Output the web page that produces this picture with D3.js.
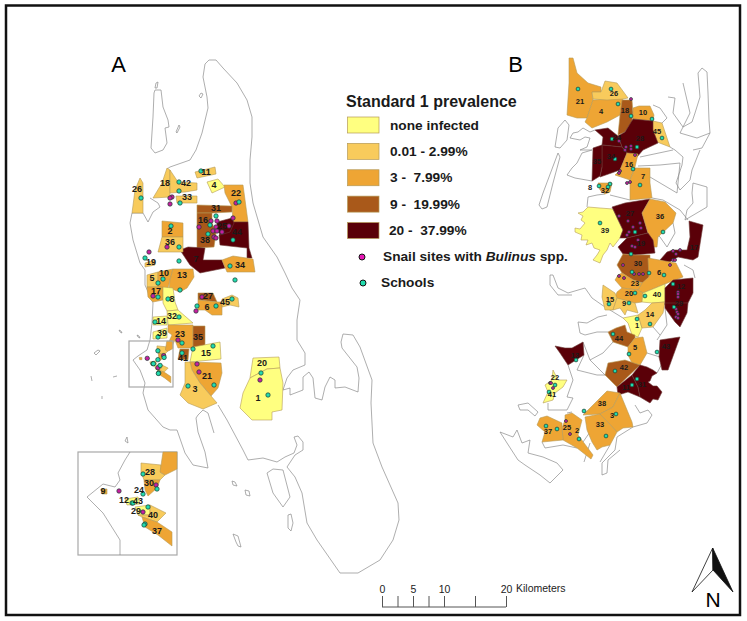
<!DOCTYPE html>
<html>
<head>
<meta charset="utf-8">
<script src="https://cdn.jsdelivr.net/npm/d3@7"></script>
<style>
  html, body { margin: 0; padding: 0; background: #fff; }
  svg { display: block; }
  text { font-family: "Liberation Sans", Arial, sans-serif; }
</style>
</head>
<body>
<svg id="map" width="747" height="621"></svg>
<script>
// prevalence classes
const classLabels = ["none infected", "0.01 - 2.99%", "3 -  7.99%", "9 -  19.99%", "20 -  37.99%"];
const classColors = ["#ffff80", "#f8cb5c", "#eea534", "#a9591a", "#5a0008"];

const coastA = [
  [[205,64],[209,60],[216,60],[223,68],[237,83],[247,100],[252,117],[252,137],[250,160],[250,183],[253,203],[263,237],[277,257],[285,273],[292,288],[300,300],[297,320],[297,340],[305,353],[305,365],[293,370],[287,378],[283,390],[290,388],[290,395],[303,390],[303,377],[309,372],[313,378],[315,398],[322,400],[325,387],[330,377],[335,380],[335,388],[345,387],[358,392],[359,378],[357,367],[342,348],[341,342],[343,334],[353,335],[360,347],[372,380],[371,403],[373,443],[382,467],[398,503],[399,520],[393,540],[380,560],[358,573],[340,573],[317,540],[307,523],[302,493],[295,477],[287,467],[295,455],[303,450],[303,442],[298,436],[294,437],[297,445],[294,453],[285,457],[277,462],[263,458],[248,460],[243,450],[227,420],[218,405]],
  [[205,64],[203,77],[207,97],[208,108],[202,133],[196,150],[190,160],[170,167],[167,169]],
  [[150,198],[158,203],[160,207],[153,212],[148,222],[143,213],[132,213],[130,223],[133,240],[140,263],[145,270],[145,285],[153,303],[152,323],[150,340],[147,350],[138,356],[133,360],[140,370],[145,383],[143,393],[148,410],[163,427],[170,430],[177,430],[185,453],[193,465],[208,468],[205,452],[198,432],[196,418],[198,415],[203,410],[208,413],[214,433]],
  [[155,90],[161,90],[163,107],[168,120],[169,127],[165,128],[167,143],[163,150],[155,153],[151,148],[153,117],[154,93],[155,90]],
  [[156,83],[158,82],[157,88],[155,88],[156,83]],
  [[176,132],[179,125],[180,127],[177,133],[176,132]],
  [[199,96],[201,93],[203,94],[201,98],[199,96]],
  [[94,353],[98,350],[100,351],[96,355],[94,353]],
  [[119,330],[121,331],[122,333],[120,332],[119,330]],
  [[137,335],[139,336],[140,338],[138,337],[137,335]],
  [[91,376],[92,381]],
  [[113,377],[117,376]],
  [[102,396],[102,399]],
  [[127,437],[125,441],[128,443],[127,437]],
  [[232,481],[235,482],[237,486],[233,485],[232,481]],
  [[245,490],[249,491],[250,496],[246,495],[245,490]],
  [[233,534],[238,536],[241,547],[238,546],[236,542],[233,534]],
  [[267,473],[273,469],[283,470],[290,497],[283,507],[273,493],[267,473]],
  [[288,515],[291,514],[293,523],[291,531],[288,528],[288,515]]
];
const insetCoast = [
  [[130,452],[125,460],[118,473],[120,480],[115,487],[103,484],[87,497],[103,513],[120,540],[120,555]]
];
const coastB = [
  [[558,153],[543,193],[539,205],[542,209],[547,207],[553,183],[560,157],[558,153]],
  [[565,120],[558,128],[555,147],[560,148],[567,140],[569,125],[565,120]],
  [[702,68],[707,72],[708,93],[709,120],[710,133],[702,148],[693,150]],
  [[702,68],[698,73],[700,97],[695,113],[692,122],[683,127],[680,133],[697,138],[710,133]],
  [[670,147],[675,150],[683,157],[682,165],[676,183],[680,190],[690,180],[692,170],[700,150]],
  [[640,157],[673,150]],
  [[638,166],[660,165],[680,163]],
  [[650,177],[677,193],[680,163]],
  [[668,97],[675,98],[673,113],[683,127],[690,113],[683,83]],
  [[653,105],[660,108],[667,118],[662,123]],
  [[595,130],[590,132],[583,128],[578,132],[573,133],[570,138],[580,140],[585,137],[590,138],[587,147],[580,150],[592,150],[582,153],[577,163],[572,168],[567,175],[575,178],[592,181]],
  [[605,194],[597,195],[588,197],[587,207]],
  [[610,195],[630,200]],
  [[673,223],[675,233],[667,247],[660,237],[658,235]],
  [[693,183],[707,187],[707,207],[685,220],[687,210],[693,203],[692,193],[693,183]],
  [[652,198],[663,200],[680,210],[688,220]],
  [[550,275],[553,275],[558,288],[568,293],[585,288],[592,298],[602,305],[610,310],[623,318]],
  [[550,275],[550,285],[558,295],[572,295]],
  [[578,322],[580,333],[585,335],[597,332],[608,332]],
  [[607,315],[598,317],[587,323],[578,322]],
  [[583,342],[590,360],[605,375]],
  [[590,360],[603,353],[613,342]],
  [[584,355],[577,370],[597,375],[607,375]],
  [[568,365],[573,380],[567,397],[573,398],[567,410],[548,410],[548,403]],
  [[665,308],[667,325],[657,340]],
  [[647,353],[660,357]],
  [[653,327],[660,335]],
  [[684,265],[693,270],[695,278]],
  [[500,432],[513,437],[517,430],[522,443],[530,440],[528,453],[543,457],[557,463],[563,470],[550,483],[540,475],[525,465],[518,460],[507,443],[500,432]],
  [[518,405],[528,403],[538,412],[535,416],[528,410],[520,410],[518,405]],
  [[635,405],[640,413],[648,410],[652,415],[647,423],[633,427],[617,437],[615,450],[602,463],[602,475],[607,473],[608,460],[620,450]],
  [[567,413],[572,412]],
  [[542,442],[545,448],[563,445],[577,448]],
  [[583,442],[590,432]],
  [[584,462],[590,443]],
  [[600,462],[610,445]],
  [[657,373],[664,360],[668,370]]
];

// [id, class, outline]
const districtsA = [
  [26,1,[[140,178],[143,183],[143,213],[132,213],[135,190]]],
  [18,1,[[167,168],[170,170],[170,197],[153,198],[162,183]]],
  [42,1,[[170,170],[178,182],[197,183],[197,190],[185,192],[170,193]]],
  [33,1,[[176,196],[197,196],[197,203],[177,203]]],
  [11,1,[[195,172],[215,167],[216,174],[197,178]]],
  [4,0,[[207,182],[218,179],[225,187],[212,193]]],
  [22,2,[[224,185],[243,185],[248,222],[233,222],[232,207],[225,193]]],
  [31,3,[[197,205],[232,206],[232,212],[212,213],[197,213]]],
  [16,3,[[197,213],[212,213],[212,223],[216,233],[214,247],[197,248]]],
  [44,4,[[232,222],[248,222],[249,248],[252,258],[247,258],[247,248],[220,245],[219,235],[233,223]]],
  [25,4,[[217,222],[232,218],[234,223],[230,232],[220,235],[217,228]]],
  [7,4,[[180,250],[188,247],[205,248],[203,260],[222,260],[225,268],[200,273],[190,265]]],
  [34,2,[[222,260],[233,256],[253,259],[255,272],[227,272]]],
  [2,2,[[162,221],[183,223],[183,237],[162,237]]],
  [36,1,[[162,237],[183,237],[183,252],[158,252]]],
  [19,1,[[145,263],[155,260],[155,265],[145,267]]],
  [5,1,[[147,275],[158,272],[158,287],[147,287]]],
  [10,2,[[158,272],[173,269],[170,280],[168,288],[158,287]]],
  [13,2,[[173,269],[193,269],[194,277],[187,288],[180,292],[169,288],[170,280]]],
  [17,2,[[147,287],[163,287],[163,300],[153,302],[148,297]]],
  [8,0,[[163,287],[173,288],[175,302],[178,310],[167,311],[163,303]]],
  [32,0,[[167,311],[178,310],[193,323],[168,325]]],
  [14,0,[[153,317],[167,316],[167,325],[153,325]]],
  [39,0,[[153,332],[167,328],[167,338],[153,339]]],
  [23,2,[[168,325],[193,325],[193,348],[178,348],[175,340],[170,350],[165,350],[172,335],[168,332]]],
  [35,3,[[193,326],[205,326],[205,347],[193,348]]],
  [41,3,[[180,349],[189,349],[188,360],[178,359]]],
  [15,0,[[193,347],[220,342],[221,359],[190,362]]],
  [21,2,[[190,362],[221,363],[222,373],[218,388],[211,396],[200,383],[192,370]]],
  [3,1,[[185,362],[190,362],[192,370],[200,383],[211,396],[217,403],[203,409],[188,403],[180,395],[185,383]]],
  [27,3,[[198,293],[213,293],[217,302],[198,300]]],
  [6,2,[[198,300],[217,302],[222,302],[222,315],[212,315],[205,310],[198,310]]],
  [45,1,[[222,299],[232,295],[238,298],[239,307],[230,305],[222,307]]],
  [20,0,[[253,358],[279,357],[280,368],[267,369],[250,378]]],
  [1,0,[[250,378],[267,369],[280,368],[283,383],[282,410],[272,412],[272,420],[252,420],[240,408],[243,393]]]
];
const districtsInset = [
  [28,1,[[141,463],[161,465],[161,473],[165,475],[160,480],[144,480],[141,472]]],
  [23,2,[[163,452],[177,452],[177,469],[165,475],[160,472]]],
  [30,2,[[144,480],[160,480],[157,488],[148,496],[145,490]]],
  [9,2,[[101,489],[107,489],[107,494],[102,494]]],
  [43,0,[[125,499],[138,497],[140,504],[127,505]]],
  [29,0,[[135,507],[150,505],[150,515],[138,515]]],
  [40,1,[[150,505],[166,513],[157,522],[142,517],[138,515],[150,515]]],
  [37,2,[[142,517],[157,522],[172,532],[172,546],[158,535],[145,527]]]
];
const districtsB = [
  [21,2,[[569,58],[573,58],[577,73],[588,83],[601,87],[601,92],[592,92],[593,100],[587,118],[577,118],[567,115],[569,83]]],
  [4,2,[[593,100],[623,98],[620,115],[607,122],[592,128],[585,122],[587,118]]],
  [26,1,[[601,92],[605,81],[617,83],[628,98],[623,99],[607,100],[593,99],[592,92]]],
  [18,3,[[622,100],[632,100],[633,113],[632,122],[625,132],[618,135],[620,115]]],
  [10,2,[[639,106],[650,106],[654,115],[653,121],[633,119],[633,108]]],
  [45,1,[[653,121],[662,123],[670,147],[657,142],[652,133],[652,122]]],
  [28,4,[[618,136],[625,132],[633,119],[653,121],[653,130],[658,143],[643,150],[637,157],[627,153],[622,147]]],
  [24,4,[[595,130],[608,128],[618,136],[622,147],[602,145],[603,137]]],
  [34,4,[[602,145],[622,147],[627,153],[620,170],[600,177],[602,167]]],
  [35,4,[[593,148],[602,145],[602,167],[600,176],[592,181]]],
  [16,2,[[627,153],[638,154],[635,167],[630,180],[615,175],[620,170]]],
  [7,2,[[635,168],[650,168],[650,183],[652,198],[630,200],[630,180]]],
  [32,2,[[598,183],[612,183],[610,192],[605,194],[600,190]]],
  [39,0,[[588,207],[600,208],[613,209],[618,220],[623,230],[620,238],[613,247],[610,243],[607,250],[603,255],[600,263],[593,260],[597,255],[600,250],[594,248],[592,243],[586,245],[588,240],[581,240],[582,235],[575,232],[575,228],[580,229],[585,223],[581,220],[583,216],[578,213],[583,212]]],
  [27,4,[[612,207],[625,203],[650,199],[642,213],[648,233],[627,238],[620,238],[623,230],[613,209]]],
  [36,2,[[650,199],[665,202],[676,213],[673,223],[658,237],[657,247],[653,247],[648,233],[642,213]]],
  [19,4,[[627,238],[648,233],[653,240],[655,253],[635,255],[623,254],[618,247]]],
  [17,4,[[689,221],[703,225],[698,257],[693,260],[678,257],[668,263],[660,260],[667,252],[673,250],[687,250],[690,237]]],
  [30,3,[[623,254],[635,255],[650,255],[650,263],[649,277],[643,283],[633,280],[622,273],[617,265]]],
  [6,2,[[648,258],[676,263],[683,277],[665,284],[643,293],[638,290],[642,283],[649,277]]],
  [23,2,[[618,275],[622,273],[633,280],[642,283],[638,290],[622,288],[615,280]]],
  [20,2,[[617,292],[622,288],[638,290],[643,293],[642,302],[635,303],[615,298]]],
  [40,0,[[643,293],[665,284],[665,302],[652,303],[642,302]]],
  [15,1,[[603,285],[615,293],[617,298],[613,310],[605,310],[602,297]]],
  [9,1,[[617,298],[635,303],[638,313],[627,310],[625,315],[620,308],[613,310]]],
  [1,0,[[623,318],[638,315],[642,328],[638,337],[632,335],[628,323]]],
  [14,1,[[652,303],[665,302],[663,313],[653,327],[642,328],[638,315],[645,310]]],
  [12,4,[[665,288],[673,280],[693,278],[693,293],[688,303],[665,305]]],
  [29,4,[[665,303],[688,303],[687,313],[680,327],[675,322],[665,308]]],
  [44,3,[[608,332],[616,328],[625,325],[627,332],[635,335],[635,338],[628,347],[613,342]]],
  [5,2,[[635,338],[643,337],[647,353],[640,365],[632,363],[628,355],[628,347]]],
  [43,4,[[660,340],[680,337],[668,370],[662,370],[659,357]]],
  [13,4,[[555,346],[565,348],[572,348],[583,342],[584,355],[568,365],[560,353]]],
  [42,3,[[608,363],[625,360],[640,365],[617,387],[605,375]]],
  [11,4,[[617,387],[632,375],[638,387],[640,397],[628,392],[618,395]]],
  [31,4,[[632,375],[640,365],[647,367],[653,370],[657,373],[652,376],[650,381],[648,382],[653,386],[657,386],[662,392],[660,396],[658,400],[653,399],[650,403],[645,400],[640,397],[638,387]]],
  [38,2,[[583,415],[607,391],[620,393],[613,407],[600,414]]],
  [3,2,[[620,393],[632,422],[633,427],[623,428],[617,432],[600,414],[613,407]]],
  [33,2,[[585,417],[600,414],[617,432],[610,445],[602,447],[597,450],[592,442],[587,430]]],
  [25,2,[[565,415],[572,413],[582,420],[578,435],[593,455],[591,459],[577,448],[563,440],[562,428],[565,420]]],
  [37,2,[[540,418],[547,416],[562,423],[562,428],[563,440],[542,442],[545,432],[537,425]]],
  [22,0,[[553,370],[558,380],[567,380],[563,387],[555,393],[553,400],[543,403],[548,392],[545,385],[552,380]]]
];

// [id, x, y]
const labelsA = [[26,137,189],[18,165,183],[42,186,183],[33,187,197],[11,206,172],[4,214,185],[22,236,193],[31,216,208],[16,203,220],[38,205,240],[25,222,226],[44,237,232],[2,170,231],[36,170,242],[19,151,262],[7,196,259],[34,240,265],[5,152,278],[10,164,273],[13,182,275],[17,156,291],[8,172,299],[32,172,316],[14,161,321],[39,162,333],[23,180,334],[35,198,337],[41,183,358],[15,206,353],[21,207,376],[3,195,389],[27,208,296],[6,207,307],[45,225,302],[20,262,363],[1,258,398]];
const labelsInset = [[28,150,472],[30,149,483],[24,139,490],[12,124,500],[43,138,501],[29,136,511],[40,153,515],[37,157,531],[9,103,491]];
const labelsB = [[21,580,101],[26,614,93],[4,601,111],[18,625,110],[10,643,112],[45,657,131],[24,617,137],[28,640,138],[34,611,156],[35,597,161],[16,629,164],[7,643,176],[8,590,187],[32,605,190],[27,630,213],[36,660,216],[39,605,230],[19,641,243],[17,694,247],[30,638,263],[6,659,272],[23,635,283],[20,629,293],[40,657,294],[12,681,286],[15,610,299],[9,624,303],[29,679,303],[14,650,314],[1,637,325],[44,619,338],[5,635,347],[43,666,346],[13,575,355],[42,624,367],[22,555,377],[11,626,387],[31,642,384],[41,552,394],[38,602,403],[3,612,415],[33,600,424],[25,567,427],[2,577,430],[37,548,431]];

const schoolsA = [[201,171],[179,182],[179,191],[180,203],[141,198],[239,202],[216,216],[210,225],[208,234],[233,240],[171,226],[179,247],[145,258],[179,261],[230,266],[235,280],[158,283],[163,279],[158,297],[168,299],[180,290],[179,317],[155,322],[158,337],[182,343],[193,349],[182,353],[213,346],[197,306],[216,306],[232,299],[188,386],[214,385],[261,373],[268,395]];
const snailsA = [[172,197],[170,198],[170,204],[149,252],[167,247],[236,203],[233,218],[199,227],[211,221],[217,221],[216,227],[213,231],[217,231],[222,232],[229,226],[214,237],[216,238],[153,296],[202,297],[196,311],[178,340],[197,364],[199,372],[260,380]];
const schoolsInset = [[143,474],[157,489],[143,494],[132,503],[133,503],[148,507],[145,524],[144,525]];
const snailsInset = [[119,491],[156,485],[143,512]];
const schoolsB = [[578,89],[611,89],[618,104],[631,116],[652,119],[662,138],[612,139],[637,147],[615,159],[633,169],[640,185],[599,186],[610,184],[608,187],[600,223],[635,232],[663,232],[631,254],[632,272],[649,273],[664,275],[673,284],[635,293],[645,296],[674,307],[609,304],[629,303],[637,319],[650,324],[613,334],[629,354],[657,352],[576,360],[615,371],[637,379],[632,385],[555,385],[549,392],[584,411],[616,414],[606,436],[546,426],[557,429],[579,439]];
const snailsB = [[631,99],[619,141],[626,147],[631,146],[625,150],[631,149],[635,155],[620,171],[619,173],[630,182],[627,183],[619,216],[628,221],[640,223],[633,227],[641,228],[629,232],[627,235],[638,240],[632,246],[635,247],[623,265],[673,251],[680,250],[676,254],[673,260],[675,260],[670,265],[634,274],[639,274],[643,274],[619,276],[624,278],[678,292],[678,294],[678,297],[676,309],[677,312],[678,314],[676,317],[678,318],[550,383],[551,383],[553,388],[566,421],[570,434]];

const scaleTicks = [0, 2.5, 5, 7.5, 10, 15, 20];
const scaleLabelled = [0, 5, 10, 20];

const svg = d3.select("#map");

// outer frame
svg.append("rect")
  .attr("x", 6).attr("y", 5.5)
  .attr("width", 734).attr("height", 609.5)
  .attr("fill", "#fff").attr("stroke", "#111").attr("stroke-width", 2.5);

// projections: main map, inset panel, and inset data shrunk to the small box
const inset = { x0: 78, y0: 452, x1: 177, y1: 555, k: 2.25 };
const mainProj = d3.geoIdentity();
const insetProj = d3.geoIdentity().clipExtent([[inset.x0, inset.y0], [inset.x1, inset.y1]]);
const miniProj = d3.geoIdentity()
  .scale(1 / inset.k)
  .translate([129 - inset.x0 / inset.k, 341 - inset.y0 / inset.k]);

const drawCoast = (lines, proj) => {
  svg.append("path")
    .datum({ type: "MultiLineString", coordinates: lines })
    .attr("d", d3.geoPath(proj))
    .attr("fill", "none")
    .attr("stroke", "#8b8b8b")
    .attr("stroke-width", 0.7);
};

const drawDistricts = (rows, proj) => {
  const path = d3.geoPath(proj);
  svg.append("g")
    .selectAll("path")
    .data(rows)
    .join("path")
    .attr("d", d => path({ type: "Polygon", coordinates: [[...d[2], d[2][0]]] }))
    .attr("fill", d => classColors[d[1]])
    .attr("stroke", d => (d[1] === 4 ? "#6d3a38" : "#b59a58"))
    .attr("stroke-width", 0.6)
    .attr("stroke-linejoin", "round");
};

const drawPoints = (rows, proj, r, fill) => {
  svg.append("g")
    .selectAll("circle")
    .data(rows)
    .join("circle")
    .attr("cx", d => proj(d)[0])
    .attr("cy", d => proj(d)[1])
    .attr("r", r)
    .attr("fill", fill)
    .attr("stroke", "#1b3a30")
    .attr("stroke-width", 0.7);
};

const drawLabels = (rows, proj, size) => {
  svg.append("g")
    .selectAll("text")
    .data(rows)
    .join("text")
    .attr("x", d => proj([d[1], d[2]])[0])
    .attr("y", d => proj([d[1], d[2]])[1])
    .attr("dy", "0.36em")
    .attr("text-anchor", "middle")
    .attr("font-size", size)
    .attr("font-weight", "bold")
    .attr("fill", "#1a1a1a")
    .text(d => d[0]);
};

const SNAIL = "#c81fa0";
const SCHOOL = "#22dcae";

// panel A
drawCoast(coastA, mainProj);
drawDistricts(districtsA, mainProj);
drawDistricts(districtsInset, miniProj);
drawPoints(snailsA, mainProj, 2.2, SNAIL);
drawPoints(schoolsA, mainProj, 2.2, SCHOOL);
drawPoints(snailsInset, miniProj, 2.2, SNAIL);
drawPoints(schoolsInset, miniProj, 2.2, SCHOOL);
drawLabels(labelsA, mainProj, 9);

svg.append("rect")
  .attr("x", 129).attr("y", 341).attr("width", 44).attr("height", 46)
  .attr("fill", "none").attr("stroke", "#a8a8a8").attr("stroke-width", 1.2);

// inset panel
svg.append("rect")
  .attr("x", inset.x0).attr("y", inset.y0)
  .attr("width", inset.x1 - inset.x0).attr("height", inset.y1 - inset.y0)
  .attr("fill", "#fff").attr("stroke", "#a8a8a8").attr("stroke-width", 1.2);
drawCoast(insetCoast, insetProj);
drawDistricts(districtsInset, insetProj);
drawPoints(snailsInset, insetProj, 2.2, SNAIL);
drawPoints(schoolsInset, insetProj, 2.2, SCHOOL);
drawLabels(labelsInset, insetProj, 9);

// panel B
drawCoast(coastB, mainProj);
drawDistricts(districtsB, mainProj);
drawPoints(snailsB, mainProj, 1.5, SNAIL);
drawPoints(schoolsB, mainProj, 1.9, SCHOOL);
drawLabels(labelsB, mainProj, 7.5);

// panel letters
svg.append("text").attr("x", 118.5).attr("y", 72).attr("text-anchor", "middle").attr("font-size", 22).text("A");
svg.append("text").attr("x", 515.5).attr("y", 72).attr("text-anchor", "middle").attr("font-size", 22).text("B");

// legend
const legend = svg.append("g").attr("font-weight", "bold").attr("fill", "#1a1a1a");
legend.append("text").attr("x", 346).attr("y", 107).attr("font-size", 16).text("Standard 1 prevalence");

const legendY = d3.scalePoint().domain(d3.range(classLabels.length)).range([125, 230.5]);
legend.selectAll("rect")
  .data(classColors)
  .join("rect")
  .attr("x", 347.5)
  .attr("y", (d, i) => legendY(i) - 8)
  .attr("width", 31.5)
  .attr("height", 16)
  .attr("fill", d => d)
  .attr("stroke", "#b59a58")
  .attr("stroke-width", 0.7);
legend.selectAll("text.cls")
  .data(classLabels)
  .join("text")
  .attr("class", "cls")
  .attr("x", (d, i) => (i === 4 ? 389 : 390))
  .attr("y", (d, i) => legendY(i) + 4.5)
  .attr("font-size", 13.7)
  .style("white-space", "pre")
  .text(d => d);

legend.append("circle").attr("cx", 362).attr("cy", 257).attr("r", 3).attr("fill", "#e617b4").attr("stroke", "#111").attr("stroke-width", 1);
legend.append("circle").attr("cx", 363).attr("cy", 283).attr("r", 3).attr("fill", SCHOOL).attr("stroke", "#111").attr("stroke-width", 1);
const snailText = legend.append("text").attr("x", 383).attr("y", 261).attr("font-size", 13.7);
snailText.append("tspan").text("Snail sites with ");
snailText.append("tspan").attr("font-style", "italic").text("Bulinus");
snailText.append("tspan").text(" spp.");
legend.append("text").attr("x", 381).attr("y", 287).attr("font-size", 13.7).text("Schools");

// scale bar
const km = d3.scaleLinear().domain([0, 20]).range([382, 506]);
const scaleAxis = d3.axisTop(km)
  .tickValues(scaleTicks)
  .tickSize(11)
  .tickPadding(3)
  .tickFormat(d => (scaleLabelled.includes(d) ? d : ""));
const scaleG = svg.append("g").attr("transform", "translate(0,607)").call(scaleAxis);
scaleG.select(".domain").attr("stroke", "#555").attr("d", `M${km(0)},0H${km(20)}`);
scaleG.selectAll(".tick line").attr("stroke", "#555");
scaleG.selectAll(".tick text").attr("font-size", 10.5).attr("font-family", "Liberation Sans").attr("fill", "#222");
svg.append("text").attr("x", 516).attr("y", 592).attr("font-size", 10.5).attr("fill", "#222").text("Kilometers");

// north arrow
const apex = [712.7, 548], left = [692, 592], hub = [713, 570], right = [733, 592];
const arrowLine = d3.line();
svg.append("path").attr("d", arrowLine([apex, left, hub]) + "Z").attr("fill", "#fff").attr("stroke", "#111").attr("stroke-width", 0.8);
svg.append("path").attr("d", arrowLine([apex, right, hub]) + "Z").attr("fill", "#111").attr("stroke", "#111").attr("stroke-width", 0.8);
svg.append("text").attr("x", 713).attr("y", 607).attr("text-anchor", "middle").attr("font-size", 21).text("N");
</script>
</body>
</html>
